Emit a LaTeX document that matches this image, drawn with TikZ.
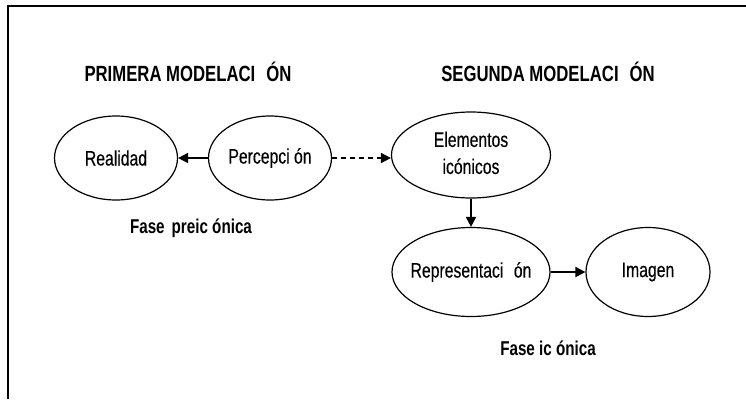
\documentclass[tikz,border=0pt]{standalone}
\usepackage{fontspec}
\setmainfont{Liberation Sans}[FakeStretch=0.75,FakeBold=0.3]
\newfontfamily\tfont{Liberation Sans}[FakeStretch=0.76]
\usetikzlibrary{shapes.geometric,arrows.meta}
\begin{document}
\begin{tikzpicture}[x=1pt,y=-1pt,
  oval/.style={draw,ellipse,line width=1.2pt,inner sep=0pt,font=\fontsize{21}{27}\selectfont,align=center},
  title/.style={font=\tfont\bfseries\fontsize{22}{26}\selectfont},
  phase/.style={font=\tfont\bfseries\fontsize{20}{24}\selectfont},
  arr/.style={line width=2pt,-{Triangle[length=10pt,width=10pt]}},
  darr/.style={line width=1.6pt,dashed,dash pattern=on 5pt off 4pt,-{Triangle[length=10pt,width=10pt]}}]
\useasboundingbox (0,0) rectangle (746,399);
\draw[line width=2.4pt] (8,399) -- (8,6) -- (746,6);
\node[title] (t1) at (188,72) {PRIMERA MODELACI\hspace{0.5em}ÓN};
\node[title] (t2) at (548,72) {SEGUNDA MODELACI\hspace{0.5em}ÓN};
\node[oval,minimum width=123pt,minimum height=84pt] (real) at (116,158) {\makebox[0pt]{Realidad}};
\node[oval,minimum width=123pt,minimum height=84pt] (perc) at (270,158) {\makebox[0pt]{Percepci ón}};
\node[oval,minimum width=159pt,minimum height=86pt] (elem) at (471,155) {\makebox[0pt]{\begin{tabular}{c}Elementos\\icónicos\end{tabular}}};
\node[oval,minimum width=158pt,minimum height=89pt] (rep) at (471,272) {\makebox[0pt]{Representaci\hspace{0.5em}ón}};
\node[oval,minimum width=124pt,minimum height=89pt] (img) at (648,272) {\makebox[0pt]{Imagen}};
\node[phase] (f1) at (191,228) {Fase\hspace{0.35em}preic ónica};
\node[phase] (f2) at (548,348) {Fase ic ónica};
\draw[arr] (perc.west) -- (real.east);
\draw[darr] (perc.east) -- (elem.west |- perc.east);
\draw[arr] (elem.south) -- (rep.north);
\draw[arr] (rep.east) -- (img.west);
\end{tikzpicture}
\end{document}
